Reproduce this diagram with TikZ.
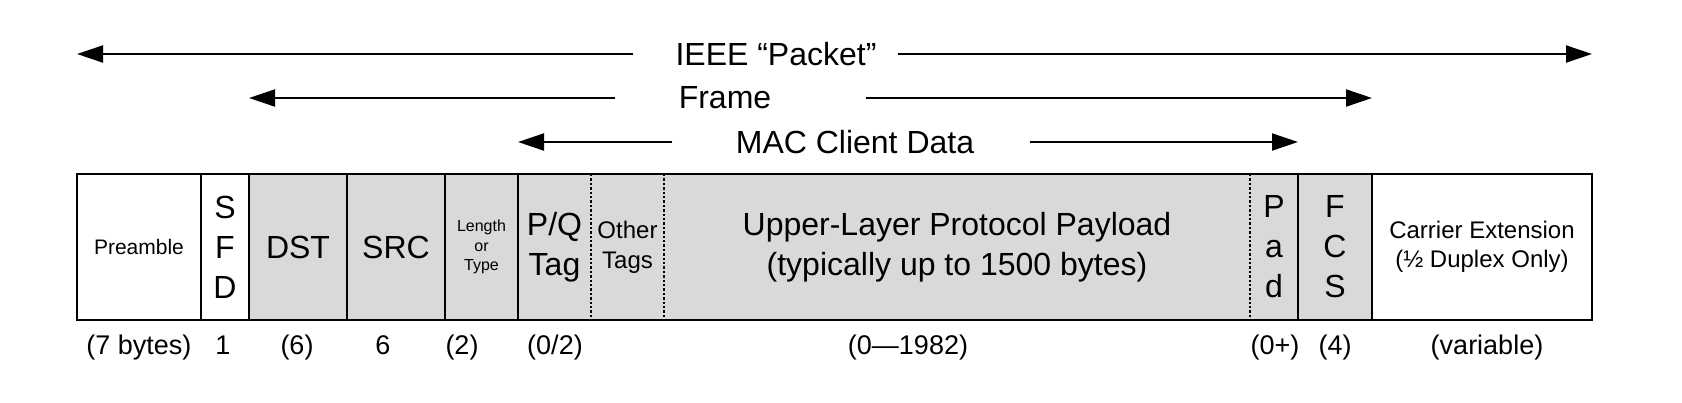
\documentclass[tikz,border=0pt]{standalone}
\usepackage{fontspec}
\setmainfont{Liberation Sans}
\usetikzlibrary{positioning, calc, arrows.meta}
\definecolor{fieldgray}{RGB}{217,217,217}

\begin{document}
\begin{tikzpicture}[x=0.5pt, y=0.5pt,
                    field/.style={rectangle, fill=fieldgray, minimum height=73pt, inner sep=0pt, outer sep=0pt, align=center, font=\fontsize{16}{20}\selectfont},
                    plain/.style={field, fill=white},
                    bytes/.style={inner sep=0pt, anchor=base, font=\fontsize{13.5}{16}\selectfont},
                    span/.style={inner sep=0pt, font=\fontsize{16}{20}\selectfont},
                    spanline/.style={-{Triangle[length=13pt, width=8.5pt]}, line width=1pt},
                    sep/.style={line width=0.8pt},
                    tagsep/.style={line width=0.6pt, dash pattern=on 1.2pt off 1pt}]

    \useasboundingbox (0,0) rectangle (1682,-402);

    % Fields
    \node[plain, minimum width=62pt, anchor=north west, font=\fontsize{10.5}{13}\selectfont] (pre) at (77,-174) {Preamble};
    \node[plain, minimum width=24pt, right=0pt of pre] (sfd) {S\\F\\D};
    \node[field, minimum width=49pt, right=0pt of sfd] (dst) {DST};
    \node[field, minimum width=49pt, right=0pt of dst] (src) {SRC};
    \node[field, minimum width=36.5pt, right=0pt of src, font=\fontsize{8}{9.75}\selectfont] (len) {Length\\or\\Type};
    \node[field, minimum width=36.5pt, right=0pt of len] (pq) {P/Q\\Tag};
    \node[field, minimum width=36.5pt, right=0pt of pq, font=\fontsize{12}{15}\selectfont] (other) {Other\\Tags};
    \node[field, minimum width=293pt, right=0pt of other] (payload) {Upper-Layer Protocol Payload\\(typically up to 1500 bytes)};
    \node[field, minimum width=24pt, right=0pt of payload] (pad) {P\\a\\d};
    \node[field, minimum width=37pt, right=0pt of pad] (fcs) {F\\C\\S};
    \node[plain, minimum width=110pt, right=0pt of fcs, font=\fontsize{12}{14.5}\selectfont] (carrier) {Carrier Extension\\(½ Duplex Only)};

    % Sizes
    \node[bytes] (prebytes) at (139,-354) {(7 bytes)};
    \node[bytes] (sfdbytes) at (223,-354) {1};
    \node[bytes] (dstbytes) at (297,-354) {(6)};
    \node[bytes] (srcbytes) at (383,-354) {6};
    \node[bytes] (lenbytes) at (462,-354) {(2)};
    \node[bytes] (pqbytes) at (555,-354) {(0/2)};
    \node[bytes] (payloadbytes) at (908,-354) {(0---1982)};
    \node[bytes] (padbytes) at (1275,-354) {(0+)};
    \node[bytes] (fcsbytes) at (1335,-354) {(4)};
    \node[bytes] (carrierbytes) at (1487,-354) {(variable)};

    % Spans
    \node[span] (packet) at (776,-54) {IEEE “Packet”};
    \node[span] (frame) at (725,-98) {Frame};
    \node[span] (macdata) at (855,-142) {MAC Client Data};

    % Lines
    \draw[sep] (pre.north west) rectangle (carrier.south east);
    \draw[sep] (pre.north east) -- (pre.south east);
    \draw[sep] (sfd.north east) -- (sfd.south east);
    \draw[sep] (dst.north east) -- (dst.south east);
    \draw[sep] (src.north east) -- (src.south east);
    \draw[sep, line width=1.3pt] (len.north east) -- (len.south east);
    \draw[tagsep] (pq.north east) -- (pq.south east);
    \draw[tagsep] (other.north east) -- (other.south east);
    \draw[tagsep] (payload.north east) -- (payload.south east);
    \draw[sep, line width=1.3pt] (pad.north east) -- (pad.south east);
    \draw[sep] (fcs.north east) -- (fcs.south east);

    \draw[spanline] ($(packet.west)+(-42,0)$) -- (packet -| pre.west);
    \draw[spanline] ($(packet.east)+(21,0)$) -- (packet -| carrier.east);
    \draw[spanline] ($(frame.west)+(-63,0)$) -- (frame -| dst.west);
    \draw[spanline] ($(frame.east)+(94,0)$) -- (frame -| fcs.east);
    \draw[spanline] ($(macdata.west)+(-63,0)$) -- (macdata -| pq.west);
    \draw[spanline] ($(macdata.east)+(55,0)$) -- (macdata -| pad.east);

\end{tikzpicture}
\end{document}
